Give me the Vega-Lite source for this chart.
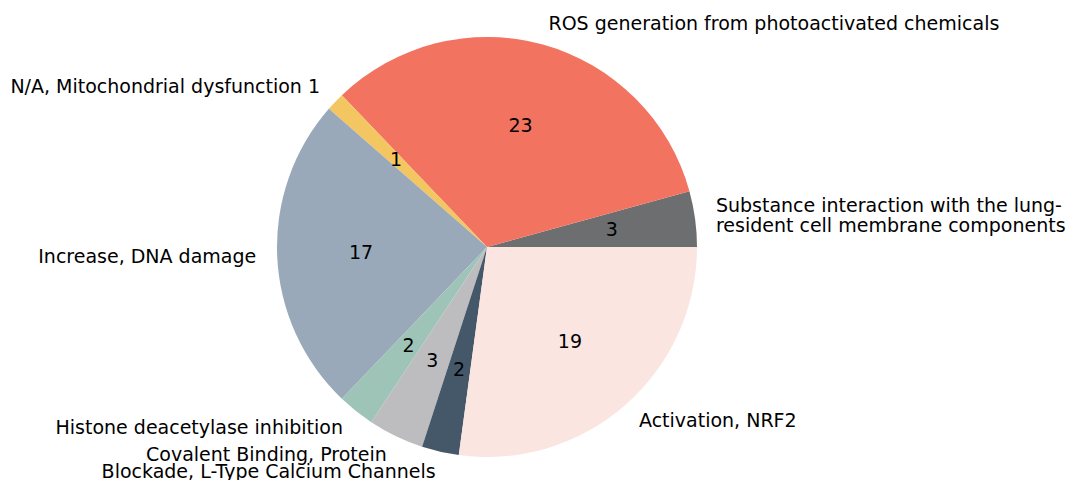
{
  "$schema": "https://vega.github.io/schema/vega-lite/v6.json",
  "width": 974,
  "height": 466,
  "autosize": "none",
  "padding": {"left": 0, "top": 14, "right": 96, "bottom": 0},
  "background": "white",
  "config": {"view": {"stroke": null}, "font": "DejaVu Sans"},
  "data": {
    "values": [
      {"label": "Substance interaction with the lung-\n resident cell membrane components", "count": 3},
      {"label": "ROS generation from photoactivated chemicals", "count": 23},
      {"label": "N/A, Mitochondrial dysfunction 1", "count": 1},
      {"label": "Increase, DNA damage", "count": 17},
      {"label": "Histone deacetylase inhibition", "count": 2},
      {"label": "Covalent Binding, Protein", "count": 3},
      {"label": "Blockade, L-Type Calcium Channels", "count": 2},
      {"label": "Activation, NRF2", "count": 19}
    ]
  },
  "transform": [{"window": [{"op": "row_number", "as": "idx"}]}],
  "encoding": {
    "theta": {"field": "count", "type": "quantitative", "stack": true, "scale": {"range": [1.5707963, 7.8539816]}},
    "order": {"field": "idx", "type": "quantitative", "sort": "descending"}
  },
  "layer": [
    {
      "mark": {"type": "arc", "outerRadius": 210},
      "encoding": {
        "color": {
          "field": "idx", "type": "nominal", "legend": null,
          "scale": {
            "domain": [1, 2, 3, 4, 5, 6, 7, 8],
            "range": ["#6d6e70", "#f27360", "#f4c662", "#99a9b9", "#9ec4b8", "#bdbdc0", "#45586a", "#fbe5e0"]
          }
        }
      }
    },
    {
      "mark": {"type": "text", "radius": 126, "fontSize": 19, "color": "black", "baseline": "middle", "align": "center"},
      "encoding": {"text": {"field": "count", "type": "quantitative"}}
    },
    {
      "mark": {"type": "text", "radius": 231, "fontSize": 19, "color": "black", "baseline": "middle", "align": "left"},
      "encoding": {"text": {"condition": {"test": "datum.idx == 2 || datum.idx == 8", "field": "label", "type": "nominal"}, "value": ""}}
    },
    {
      "mark": {"type": "text", "radius": 231, "fontSize": 19, "color": "black", "baseline": "middle", "align": "left", "lineBreak": "\n", "lineHeight": 20, "dy": -10},
      "encoding": {"text": {"condition": {"test": "datum.idx == 1", "field": "label", "type": "nominal"}, "value": ""}}
    },
    {
      "mark": {"type": "text", "radius": 231, "fontSize": 19, "color": "black", "baseline": "middle", "align": "right"},
      "encoding": {"text": {"condition": {"test": "datum.idx > 2 && datum.idx < 8", "field": "label", "type": "nominal"}, "value": ""}}
    }
  ]
}
